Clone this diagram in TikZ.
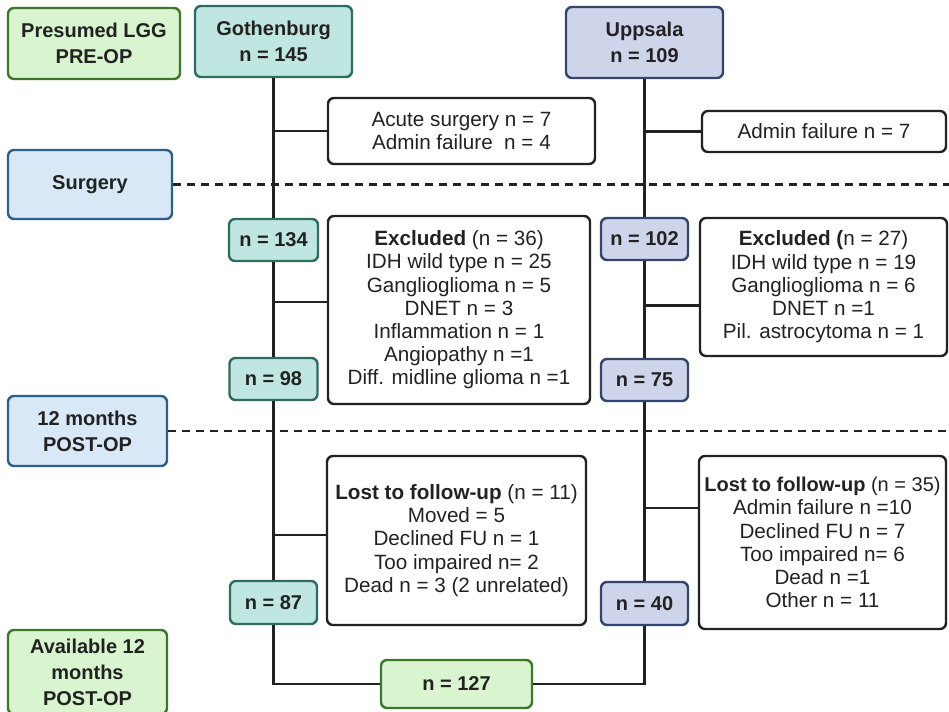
\documentclass[tikz,border=0pt]{standalone}
\usepackage{fontspec}
\setmainfont{Liberation Sans}
\usepackage{tikz}
\definecolor{stagegreen}{RGB}{216,245,208}
\definecolor{stagegreenline}{RGB}{62,118,42}
\definecolor{stageblue}{RGB}{216,232,247}
\definecolor{stageblueline}{RGB}{48,94,140}
\definecolor{gothteal}{RGB}{191,230,224}
\definecolor{gothtealline}{RGB}{46,108,98}
\definecolor{uppblue}{RGB}{206,212,234}
\definecolor{uppblueline}{RGB}{52,68,108}
\definecolor{inkdark}{RGB}{34,34,34}
\usetikzlibrary{positioning, calc}

\begin{document}
\begin{tikzpicture}[
    x=0.75pt, y=-0.75pt,
    sz/.style 2 args={minimum width=#1*0.75pt, minimum height=#2*0.75pt},
    base/.style={rectangle, rounded corners=4.5pt, line width=1.8pt,
                 inner sep=0pt, align=center, text=inkdark},
    bold/.style={font=\bfseries\fontsize{15}{19.5}\selectfont},
    stagegreenbox/.style={base, bold, draw=stagegreenline, fill=stagegreen},
    stagebluebox/.style={base, bold, draw=stageblueline, fill=stageblue},
    gothbox/.style={base, bold, draw=gothtealline, fill=gothteal},
    uppbox/.style={base, bold, draw=uppblueline, fill=uppblue},
    note/.style={base, draw=inkdark, fill=white,
                 font=\fontsize{15.5}{17.4}\selectfont},
    link/.style={line width=1.8pt, draw=inkdark},
    phaseline/.style={line width=1.7pt, draw=inkdark, dash pattern=on 6pt off 4.5pt}
]
    \useasboundingbox (0,0) rectangle (949,712);

    % stages on the left
    \node[stagegreenbox, sz={172}{71}] (preop) at (94,43.5) {Presumed LGG\\PRE-OP};
    \node[stagebluebox, sz={164}{69}] (surgery) at (90,184.5) {Surgery};
    \node[stagebluebox, sz={159}{70}] (postop) at (87.5,431) {12 months\\POST-OP};
    \node[stagegreenbox, sz={159}{84}] (avail) at (87.5,672) {Available 12\\months\\POST-OP};

    % Gothenburg column
    \node[gothbox, sz={157}{71}] (goth) at (273.5,41.5) {Gothenburg\\n = 145};
    \node[gothbox, sz={89}{42}] (n134) at (273.5,240) {n = 134};
    \node[gothbox, sz={88}{42}] (n98) at (273.5,379) {n = 98};
    \node[gothbox, sz={87}{43}] (n87) at (273.5,602.5) {n = 87};

    % Uppsala column
    \node[uppbox, sz={157}{71}] (upp) at (644.5,42.5) {Uppsala\\n = 109};
    \node[uppbox, sz={87}{42}] (n102) at (644.5,239) {n = 102};
    \node[uppbox, sz={87}{42}] (n75) at (644.5,380) {n = 75};
    \node[uppbox, sz={87}{43}] (n40) at (644.5,603.5) {n = 40};

    \node[stagegreenbox, sz={151}{48}] (n127) at (456.5,684) {n = 127};

    % drop-outs
    \node[note, sz={267}{66}] (acute) at (461.5,131) {Acute surgery n = 7\\Admin failure\ \ n = 4};
    \node[note, sz={244}{41}] (adminU) at (824,131.5) {Admin failure n = 7};
    \node[note, sz={262}{188}] (exclG) at (459,310)
        {\textbf{Excluded} (n = 36)\\IDH wild type n = 25\\Ganglioglioma n = 5\\DNET n = 3\\Inflammation n = 1\\Angiopathy n =1\\Diff. midline glioma n =1};
    \node[note, sz={247}{138}] (exclU) at (823.5,287)
        {\textbf{Excluded (}n = 27)\\IDH wild type n = 19\\Ganglioglioma n = 6\\DNET n =1\\Pil. astrocytoma n = 1};
    \node[note, sz={259}{169}] (lostG) at (456.5,540.5)
        {\textbf{Lost to follow-up} (n = 11)\\Moved = 5\\Declined FU n = 1\\Too impaired n= 2\\Dead n = 3 (2 unrelated)};
    \node[note, sz={247}{173}] (lostU) at (822.5,542.5)
        {{\fontsize{15}{17.4}\selectfont\textbf{Lost to follow-up} (n = 35)}\\Admin failure n =10\\Declined FU n = 7\\Too impaired n= 6\\Dead n =1\\Other n = 11};

    % phase separators
    \coordinate (edgeA) at (949,185);
    \coordinate (edgeB) at (949,432);
    \draw[phaseline] (surgery.east) -- (surgery.east -| edgeA);
    \draw[phaseline] (postop.east) -- (postop.east -| edgeB);

    % branch points
    \coordinate (brExG) at ([yshift=6pt]exclG.west);
    \coordinate (brExU) at ([yshift=-14pt]exclU.west);
    \coordinate (brLoG) at ([yshift=4pt]lostG.west);
    \coordinate (brLoU) at ([yshift=26pt]lostU.west);

    \draw[link] (goth) -- (n134);
    \draw[link] (n134) -- (n98);
    \draw[link] (n98) -- (n87);
    \draw[link] (n87) |- (n127);
    \draw[link] (acute.west -| goth) -- (acute);
    \draw[link] (brExG -| n134) -- (brExG);
    \draw[link] (brLoG -| n98) -- (brLoG);

    \draw[link] (upp) -- (n102);
    \draw[link] (n102) -- (n75);
    \draw[link] (n75) -- (n40);
    \draw[link] (n40) |- (n127);
    \draw[link] (adminU.west -| upp) -- (adminU);
    \draw[link] (brExU -| n102) -- (brExU);
    \draw[link] (brLoU -| n75) -- (brLoU);
\end{tikzpicture}
\end{document}
